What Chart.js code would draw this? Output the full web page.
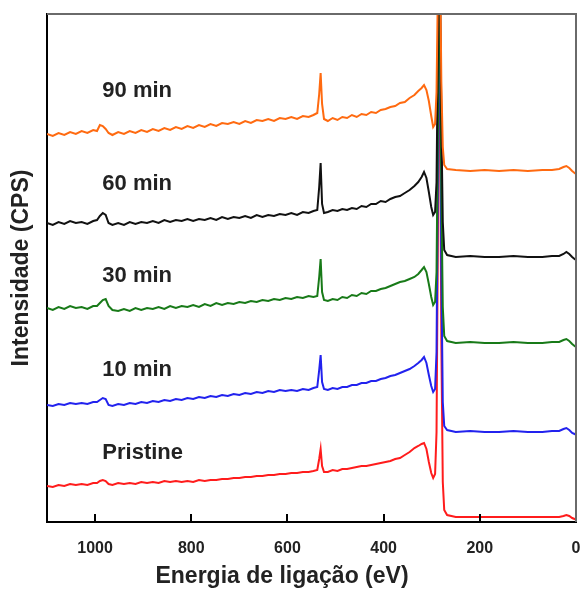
<!DOCTYPE html>
<html>
<head>
<meta charset="utf-8">
<script src="https://cdn.jsdelivr.net/npm/chart.js@4"></script>
<style>
  html, body { margin: 0; padding: 0; background: #fff; }
  #wrap { width: 581px; height: 590px; }
</style>
</head>
<body>
<div id="wrap"><canvas id="xps" width="581" height="590"></canvas></div>
<script>
// Binding energy grid (eV), shared by every spectrum
const energy = [
  1100, 1088, 1076, 1064, 1052, 1040, 1028, 1016, 1004,
  996, 990, 984, 978, 972, 964,
  952, 940, 928, 916, 904, 892, 880, 868, 856, 844, 832, 820, 808, 796, 784, 772, 760, 748, 736, 724,
  712, 700, 688, 676, 664, 652, 640, 628, 616, 604, 592, 580, 568, 556, 546,
  538, 534, 531, 528, 524,
  516, 506, 496, 486, 476, 466, 456, 446, 436, 426, 416, 406, 396, 386, 376, 366, 356, 346, 336, 328,
  321, 316, 311, 306, 301, 297, 293,
  290, 287, 285, 283, 280, 277, 274,
  268, 250, 220, 190, 160, 130, 100, 70, 50, 35, 26, 20, 14, 8, 3, 0
];

// Intensities (offset, arbitrary units)
const min90 = [
  388, 386, 389, 387, 390, 388, 391, 389, 392,
  391, 397, 396, 393, 389, 387,
  390, 388, 391, 389, 392, 390, 393, 391, 394, 392, 395, 393, 396, 394, 397, 395, 398, 396, 399, 398,
  400, 398, 401, 399, 402, 401, 403, 401, 404, 403, 405, 403, 406, 405, 407,
  409, 428, 449, 418, 403,
  401, 404, 402, 405, 404, 407, 405, 408, 407, 410, 409, 412, 413, 415, 416, 419, 420, 424, 427, 431,
  434, 437, 432, 421, 406, 395, 398,
  430, 540, 640, 580, 440, 375, 357,
  353, 352, 351, 352, 351, 352, 351, 352, 352, 353, 355, 356, 354, 351, 349, 348
];
const min60 = [
  299, 297, 300, 298, 301, 299, 300, 298, 301,
  302, 306, 309, 307, 299, 297,
  299, 297, 300, 298, 300, 299, 301, 299, 302, 300, 302, 301, 303, 301, 303, 302, 304, 302, 305, 303,
  305, 304, 306, 304, 307, 305, 307, 306, 308, 307, 309, 307, 310, 309, 311,
  312, 335, 359, 318, 309,
  310, 312, 311, 313, 312, 314, 313, 316, 315, 318, 318, 321, 320, 323, 325, 326, 329, 332, 336, 340,
  345, 350, 344, 330, 315, 307, 310,
  340, 480, 620, 560, 400, 300, 272,
  267, 265, 266, 265, 265, 266, 265, 265, 266, 266, 268, 270, 268, 265, 263, 262
];
const min30 = [
  214, 212, 215, 213, 216, 214, 215, 213, 216,
  216, 219, 222, 223, 216, 212,
  211, 213, 211, 214, 212, 214, 213, 215, 213, 216, 214, 216, 215, 217, 215, 218, 216, 219, 217, 219,
  218, 220, 219, 221, 220, 222, 221, 223, 222, 224, 223, 225, 224, 226, 225,
  226, 245, 263, 230, 222,
  221, 223, 222, 225, 224, 227, 226, 229, 228, 231, 231, 233, 234, 236, 238, 240, 241, 243, 245, 248,
  252, 255, 250, 238, 225, 217, 220,
  250, 400, 600, 520, 330, 215, 186,
  181, 179, 180, 179, 179, 180, 179, 179, 180, 180, 182, 183, 181, 178, 176, 175
];
const min10 = [
  117, 116, 118, 117, 119, 118, 119, 118, 120,
  120, 122, 124, 123, 117, 116,
  118, 117, 119, 118, 120, 119, 121, 120, 122, 121, 123, 122, 124, 123, 125, 124, 126, 125, 127, 126,
  128, 127, 129, 128, 130, 129, 131, 130, 132, 131, 132, 131, 133, 132, 134,
  135, 152, 167, 140, 133,
  132, 134, 133, 135, 135, 137, 137, 139, 139, 141, 141, 143, 144, 146, 147, 149, 151, 153, 156, 159,
  162, 165, 159, 147, 136, 130, 133,
  170, 360, 580, 480, 250, 120, 96,
  92, 90, 91, 90, 90, 91, 90, 90, 91, 91, 93, 94, 92, 89, 88, 87
];
const pristine = [
  36, 35, 37, 36, 38, 37, 38, 37, 39,
  39, 41, 42, 41, 38, 37,
  39, 38, 39, 38, 40, 39, 40, 39, 41, 40, 41, 40, 41, 40, 42, 41, 42, 42, 43, 43,
  44, 44, 45, 45, 46, 46, 47, 47, 48, 48, 49, 49, 50, 50, 51,
  52, 63, 73, 56, 50,
  50, 52, 51, 53, 53, 54, 55, 56, 56, 57, 58, 59, 60, 61, 63, 64, 67, 70, 74, 76,
  78, 79, 73, 60, 49, 44, 48,
  90, 300, 560, 440, 180, 40, 12,
  7, 5, 5, 5, 5, 5, 5, 5, 5, 5, 6, 7, 6, 4, 3, 2
];

const seriesNames = ['90 min', '60 min', '30 min', '10 min', 'Pristine'];
const seriesData = [min90, min60, min30, min10, pristine];
const seriesColors = ['#ff6a10', '#111111', '#187a18', '#2222ee', '#ff1c1c'];
const xTicks = [1000, 800, 600, 400, 200, 0];

// where the sample names sit, in data units
const nameX = 985;
const nameY = [431, 338, 246, 152, 69];

const FONT = '"Liberation Sans", Arial, sans-serif';

const decorPlugin = {
  id: 'decor',
  afterDatasetsDraw(chart) {
    const { ctx, chartArea, scales } = chart;
    ctx.save();
    // names next to each spectrum
    ctx.font = 'bold 22px ' + FONT;
    ctx.fillStyle = '#222';
    ctx.textAlign = 'left';
    ctx.textBaseline = 'middle';
    seriesNames.forEach((n, i) => {
      ctx.fillText(n, scales.x.getPixelForValue(nameX), scales.y.getPixelForValue(nameY[i]));
    });
    // energy axis title, sits a bit left of the axis centre in the original
    ctx.font = 'bold 23px ' + FONT;
    ctx.textAlign = 'center';
    ctx.fillText('Energia de ligação (eV)', 282, 577);
    // inward tick marks on the energy axis
    ctx.strokeStyle = '#000';
    ctx.lineWidth = 2;
    xTicks.filter(v => v > 0).forEach(v => {
      const x = Math.round(scales.x.getPixelForValue(v));
      ctx.beginPath();
      ctx.moveTo(x, chartArea.bottom);
      ctx.lineTo(x, chartArea.bottom - 8);
      ctx.stroke();
    });
    // grey frame on top and right
    ctx.strokeStyle = '#6a6a6a';
    ctx.beginPath();
    ctx.moveTo(chartArea.left, chartArea.top);
    ctx.lineTo(chartArea.right, chartArea.top);
    ctx.lineTo(chartArea.right, chartArea.bottom);
    ctx.stroke();
    ctx.restore();
  }
};

new Chart(document.getElementById('xps'), {
  type: 'line',
  data: {
    labels: energy,
    datasets: seriesNames.map((n, i) => ({
      label: n,
      data: energy.map((e, k) => ({ x: e, y: seriesData[i][k] })),
      borderColor: seriesColors[i],
      backgroundColor: 'transparent',
      borderWidth: 2,
      pointRadius: 0,
      tension: 0,
      fill: false
    }))
  },
  options: {
    responsive: false,
    animation: false,
    layout: { padding: { top: 14, right: 5, left: 0, bottom: 0 } },
    plugins: { legend: { display: false }, tooltip: { enabled: false } },
    scales: {
      x: {
        type: 'linear', reverse: true, min: 0, max: 1100,
        afterBuildTicks: s => { s.ticks = xTicks.map(v => ({ value: v })); },
        afterFit: s => { s.height = 68; s.paddingLeft = 0; s.paddingRight = 0; },
        grid: { display: false },
        border: { display: true, color: '#000', width: 2 },
        ticks: { color: '#222', padding: 9, maxRotation: 0, callback: v => String(v),
                 font: { family: FONT, size: 16, weight: 'bold' } },
        title: { display: false }
      },
      y: {
        type: 'linear', min: 0, max: 508,
        afterFit: s => { s.width = 47; },
        grid: { display: false },
        border: { display: true, color: '#000', width: 2 },
        ticks: { display: false },
        title: { display: true, text: 'Intensidade (CPS)', color: '#222', padding: { top: 8, bottom: 0 },
                 font: { family: FONT, size: 23, weight: 'bold' } }
      }
    }
  },
  plugins: [decorPlugin]
});
</script>
</body>
</html>
